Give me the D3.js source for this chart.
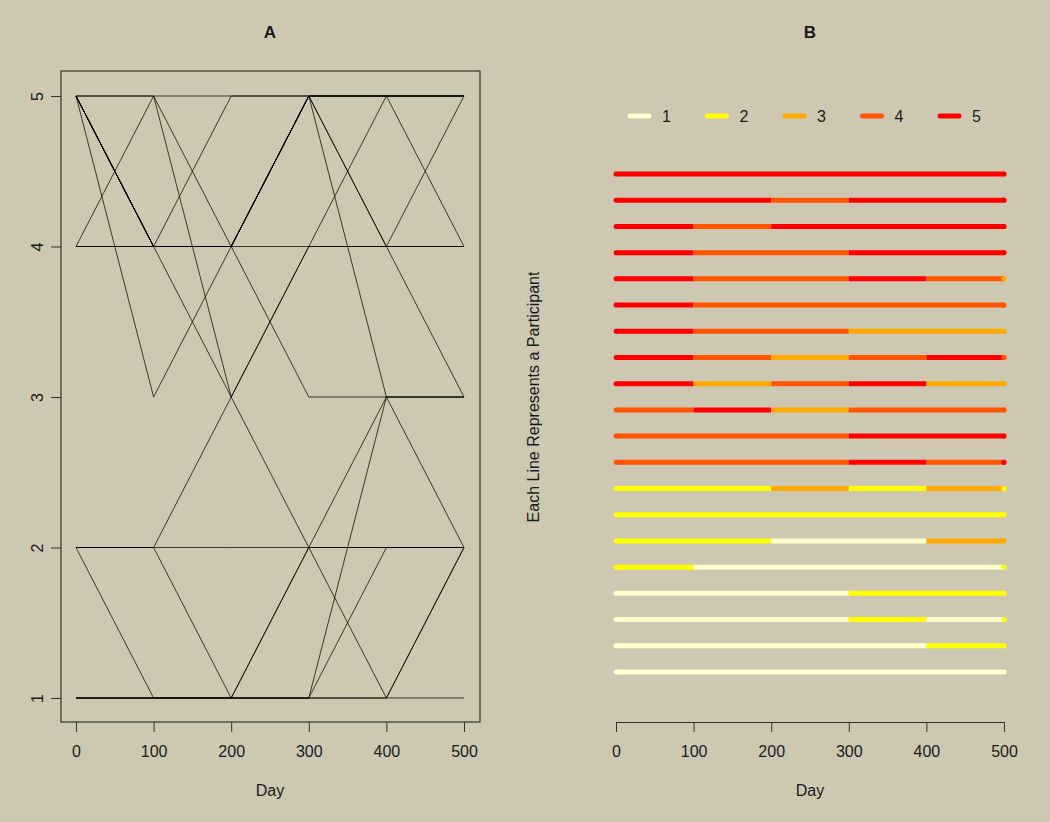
<!DOCTYPE html>
<html>
<head>
<meta charset="utf-8">
<script src="https://cdn.jsdelivr.net/npm/d3@7"></script>
<style>
  html, body { margin: 0; padding: 0; background: #CEC8B2; }
  svg { display: block; font-family: "Liberation Sans", Arial, Helvetica, sans-serif; }
</style>
</head>
<body>
<svg id="chart" width="1050" height="822"></svg>
<script>
// ---- data ----
const days = [0, 100, 200, 300, 400, 500];
const states = [1, 2, 3, 4, 5];
const stateColors = ["#FFFFCC", "#FFFF00", "#FFAA00", "#FF5500", "#FF0000"];
const xTicks = [0, 100, 200, 300, 400, 500];
const yTicks = [1, 2, 3, 4, 5];
// one row per participant: state at each day
const p01 = [5, 5, 5, 5, 5, 5];
const p02 = [5, 5, 4, 5, 5, 5];
const p03 = [5, 4, 5, 5, 5, 5];
const p04 = [5, 4, 4, 5, 5, 5];
const p05 = [5, 4, 4, 5, 4, 3];
const p06 = [5, 4, 4, 4, 4, 4];
const p07 = [5, 4, 4, 3, 3, 3];
const p08 = [5, 4, 3, 4, 5, 4];
const p09 = [5, 3, 4, 5, 3, 3];
const p10 = [4, 5, 3, 4, 4, 4];
const p11 = [4, 4, 4, 5, 5, 5];
const p12 = [4, 4, 4, 5, 4, 5];
const p13 = [2, 2, 3, 2, 3, 2];
const p14 = [2, 2, 2, 2, 2, 2];
const p15 = [2, 2, 1, 1, 3, 3];
const p16 = [2, 1, 1, 1, 1, 2];
const p17 = [1, 1, 1, 2, 2, 2];
const p18 = [1, 1, 1, 2, 1, 2];
const p19 = [1, 1, 1, 1, 2, 2];
const p20 = [1, 1, 1, 1, 1, 1];
const participants = [p01, p02, p03, p04, p05, p06, p07, p08, p09, p10,
                      p11, p12, p13, p14, p15, p16, p17, p18, p19, p20];

// ---- drawing ----
const svg = d3.select("#chart");
const color = d3.scaleOrdinal().domain(states).range(stateColors);
const ink = "#1a1a1a";
const fs = 16;

// ===== Panel A =====
const ax = d3.scaleLinear().domain([0, 500]).range([76, 464]);
const ay = d3.scaleLinear().domain([1, 5]).range([698, 96]);
const A = svg.append("g");

A.append("rect").attr("x", 61).attr("y", 71).attr("width", 480 - 61).attr("height", 722 - 71)
  .attr("fill", "none").attr("stroke", "#333").attr("stroke-width", 1.2);

const line = d3.line().x((d, i) => ax(days[i])).y(d => ay(d));
A.append("g").selectAll("path").data(participants).join("path")
  .attr("d", d => line(d))
  .attr("fill", "none").attr("stroke", "rgba(0,0,0,0.72)").attr("stroke-width", 1);

// x axis A
const axA = A.append("g").attr("transform", "translate(0,722)")
  .call(d3.axisBottom(ax).tickValues(xTicks).tickSize(10).tickPadding(14).tickFormat(d3.format("d")));
axA.select(".domain").remove();
axA.selectAll("line").attr("stroke", "#333");
axA.selectAll("text").attr("font-size", fs).attr("fill", ink).attr("font-family", null);

// y axis A
const ayA = A.append("g").attr("transform", "translate(61,0)")
  .call(d3.axisLeft(ay).tickValues(yTicks).tickSize(10).tickFormat(d3.format("d")));
ayA.select(".domain").remove();
ayA.selectAll("line").attr("stroke", "#333");
ayA.selectAll("text").remove();
ayA.selectAll(".tick").append("text")
  .attr("transform", "translate(-24,0) rotate(-90)")
  .attr("text-anchor", "middle").attr("dy", "0.35em")
  .attr("font-size", fs).attr("fill", ink)
  .text(d => d);

A.append("text").attr("x", 270).attr("y", 38).attr("text-anchor", "middle")
  .attr("font-weight", "bold").attr("font-size", 17).attr("fill", ink).text("A");
A.append("text").attr("x", 270).attr("y", 796).attr("text-anchor", "middle")
  .attr("font-size", fs).attr("fill", ink).text("Day");

// ===== Panel B =====
const bx = d3.scaleLinear().domain([0, 500]).range([616, 1004]);
const by = d3.scalePoint().domain(d3.range(participants.length)).range([174, 672]);
const B = svg.append("g");

// runs of equal state (segment from day i to day i+1 takes the state at day i)
const segs = [];
participants.forEach((p, r) => {
  let start = 0;
  for (let i = 1; i < p.length; i++) {
    if (i === p.length - 1 || p[i] !== p[start]) {
      segs.push({ r, x0: days[start], x1: days[i], v: p[start] });
      start = i;
    }
  }
});
B.append("g").selectAll("line").data(segs).join("line")
  .attr("x1", d => bx(d.x0)).attr("x2", d => bx(d.x1))
  .attr("y1", d => by(d.r)).attr("y2", d => by(d.r))
  .attr("stroke", d => color(d.v)).attr("stroke-width", 5)
  .attr("stroke-linecap", "butt");
// start caps
B.append("g").selectAll("circle").data(participants).join("circle")
  .attr("cx", bx(days[0])).attr("cy", (d, i) => by(i))
  .attr("r", 2.5).attr("fill", d => color(d[0]));
// end points (state at last day)
B.append("g").selectAll("circle").data(participants).join("circle")
  .attr("cx", bx(days[days.length - 1])).attr("cy", (d, i) => by(i))
  .attr("r", 2.6).attr("fill", d => color(d[d.length - 1]));

// x axis B
const axB = B.append("g").attr("transform", "translate(0,722)")
  .call(d3.axisBottom(bx).tickValues(xTicks).tickSize(10).tickSizeOuter(0).tickPadding(14).tickFormat(d3.format("d")));
axB.select(".domain").attr("stroke", "#333").attr("stroke-width", 1.2);
axB.selectAll("line").attr("stroke", "#333");
axB.selectAll("text").attr("font-size", fs).attr("fill", ink).attr("font-family", null);

B.append("text").attr("x", 810).attr("y", 38).attr("text-anchor", "middle")
  .attr("font-weight", "bold").attr("font-size", 17).attr("fill", ink).text("B");
B.append("text").attr("x", 810).attr("y", 796).attr("text-anchor", "middle")
  .attr("font-size", fs).attr("fill", ink).text("Day");
B.append("text").attr("transform", "translate(539,397) rotate(-90)")
  .attr("text-anchor", "middle").attr("font-size", fs).attr("fill", ink)
  .text("Each Line Represents a Participant");

// legend
const legX = d3.scalePoint().domain(states).range([630, 940]);
const leg = B.append("g").selectAll("g").data(states).join("g")
  .attr("transform", d => `translate(${legX(d)},116)`);
leg.append("line").attr("x1", 0).attr("x2", 19).attr("y1", 0).attr("y2", 0)
  .attr("stroke", d => color(d)).attr("stroke-width", 5).attr("stroke-linecap", "round");
leg.append("text").attr("x", 32).attr("dy", "0.35em").attr("font-size", fs).attr("fill", ink)
  .text(d => d);
</script>
</body>
</html>
